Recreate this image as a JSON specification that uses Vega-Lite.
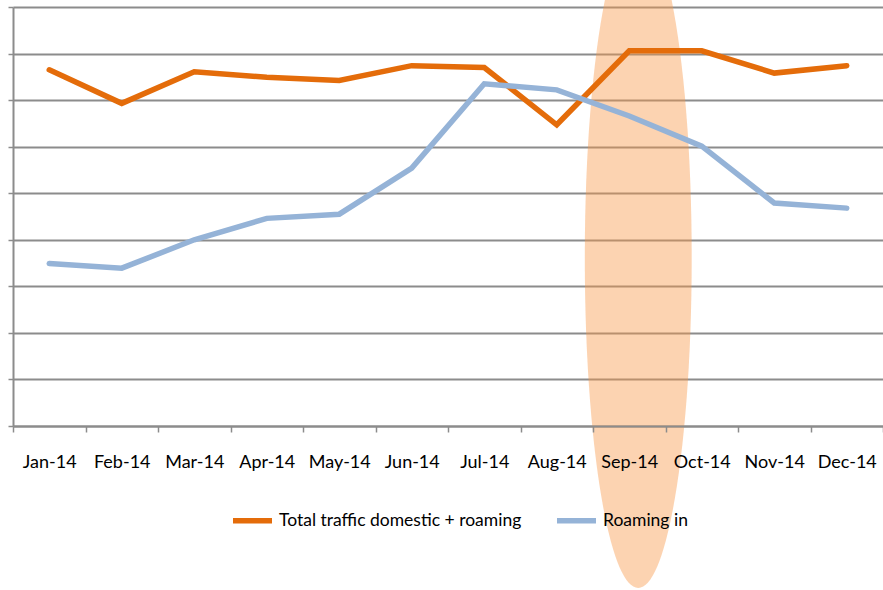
{
  "$schema": "https://vega.github.io/schema/vega-lite/v6.json",
  "width": 870,
  "height": 419,
  "autosize": {"type": "none"},
  "padding": {"left": 13, "top": 7, "right": 0, "bottom": 164},
  "background": "white",
  "config": {"view": {"stroke": null}, "font": "Lato"},
  "datasets": {
    "highlight": [{"month": "Sep-14", "value": 36.1}],
    "traffic": [
      {"month": "Jan-14", "series": "Total traffic domestic + roaming", "value": 76.5},
      {"month": "Feb-14", "series": "Total traffic domestic + roaming", "value": 69.3},
      {"month": "Mar-14", "series": "Total traffic domestic + roaming", "value": 76.1},
      {"month": "Apr-14", "series": "Total traffic domestic + roaming", "value": 74.9},
      {"month": "May-14", "series": "Total traffic domestic + roaming", "value": 74.2},
      {"month": "Jun-14", "series": "Total traffic domestic + roaming", "value": 77.4},
      {"month": "Jul-14", "series": "Total traffic domestic + roaming", "value": 77.0},
      {"month": "Aug-14", "series": "Total traffic domestic + roaming", "value": 64.7},
      {"month": "Sep-14", "series": "Total traffic domestic + roaming", "value": 80.6},
      {"month": "Oct-14", "series": "Total traffic domestic + roaming", "value": 80.6},
      {"month": "Nov-14", "series": "Total traffic domestic + roaming", "value": 75.8},
      {"month": "Dec-14", "series": "Total traffic domestic + roaming", "value": 77.4},
      {"month": "Jan-14", "series": "Roaming in", "value": 34.9},
      {"month": "Feb-14", "series": "Roaming in", "value": 33.9},
      {"month": "Mar-14", "series": "Roaming in", "value": 40.0},
      {"month": "Apr-14", "series": "Roaming in", "value": 44.6},
      {"month": "May-14", "series": "Roaming in", "value": 45.5},
      {"month": "Jun-14", "series": "Roaming in", "value": 55.4},
      {"month": "Jul-14", "series": "Roaming in", "value": 73.5},
      {"month": "Aug-14", "series": "Roaming in", "value": 72.2},
      {"month": "Sep-14", "series": "Roaming in", "value": 66.6},
      {"month": "Oct-14", "series": "Roaming in", "value": 60.1},
      {"month": "Nov-14", "series": "Roaming in", "value": 47.9},
      {"month": "Dec-14", "series": "Roaming in", "value": 46.8}
    ]
  },
  "layer": [
    {
      "data": {"name": "highlight"},
      "mark": {
        "type": "point",
        "shape": "M0,-1A0.162,1 0 1,1 0,1A0.162,1 0 1,1 0,-1Z",
        "filled": true,
        "color": "#F79646",
        "opacity": 0.42,
        "strokeWidth": 0,
        "size": 435600,
        "xOffset": 9,
        "clip": false
      },
      "encoding": {
        "x": {"field": "month", "type": "ordinal"},
        "y": {"field": "value", "type": "quantitative"}
      }
    },
    {
      "data": {"name": "traffic"},
      "mark": {"type": "line", "strokeWidth": 5.5, "strokeCap": "round", "strokeJoin": "miter"},
      "encoding": {
        "x": {
          "field": "month",
          "type": "ordinal",
          "scale": {
            "type": "band",
            "domain": ["Jan-14", "Feb-14", "Mar-14", "Apr-14", "May-14", "Jun-14", "Jul-14", "Aug-14", "Sep-14", "Oct-14", "Nov-14", "Dec-14"],
            "paddingInner": 0,
            "paddingOuter": 0
          },
          "axis": {
            "title": null,
            "labelAngle": 0,
            "labelAlign": "center",
            "labelFontSize": 18,
            "labelColor": "#000000",
            "tickBand": "extent",
            "tickSize": 6,
            "tickWidth": 1.5,
            "tickColor": "#8C8C8C",
            "domainColor": "#8C8C8C",
            "domainWidth": 2,
            "labelPadding": 30,
            "grid": false,
            "zindex": 1
          }
        },
        "y": {
          "field": "value",
          "type": "quantitative",
          "scale": {"domain": [0, 90], "nice": false},
          "axis": {
            "title": null,
            "labels": false,
            "values": [0, 10, 20, 30, 40, 50, 60, 70, 80, 90],
            "grid": true,
            "gridColor": "#8C8C8C",
            "gridWidth": 2,
            "tickSize": 5,
            "tickWidth": 1.5,
            "tickColor": "#8C8C8C",
            "domainColor": "#8C8C8C",
            "domainWidth": 2
          }
        },
        "color": {
          "field": "series",
          "type": "nominal",
          "sort": null,
          "scale": {
            "domain": ["Total traffic domestic + roaming", "Roaming in"],
            "range": ["#E46C0A", "#95B3D7"]
          },
          "legend": {
            "title": null,
            "orient": "none",
            "legendX": 217,
            "legendY": 491,
            "direction": "horizontal",
            "symbolType": "stroke",
            "symbolSize": 1521,
            "symbolStrokeWidth": 5.5,
            "labelFontSize": 17.5,
            "labelColor": "#000000",
            "labelOffset": 4,
            "columnPadding": 24,
            "labelLimit": 400,
            "zindex": 1
          }
        }
      }
    }
  ]
}
